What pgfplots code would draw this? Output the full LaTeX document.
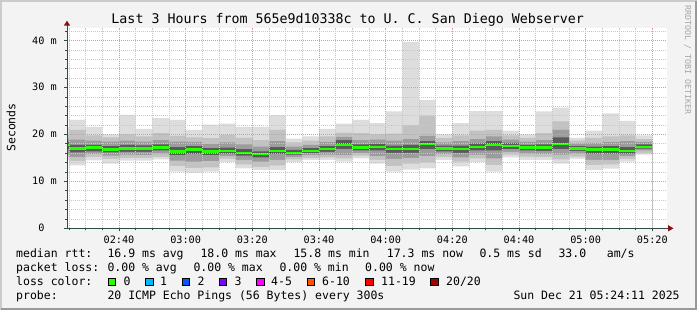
\documentclass[border=0pt]{standalone}
\usepackage{pgfplots}
\pgfplotsset{compat=1.18}
\usepackage{pgfplotstable}
\usepackage{fontspec}
\setmainfont{DejaVu Sans Mono}
\definecolor{bgc}{HTML}{F3F3F3}
\definecolor{shA}{HTML}{CBCBCB}
\definecolor{shB}{HTML}{999999}
\definecolor{axc}{HTML}{2C4D43}
\definecolor{arr}{HTML}{8B1010}
\definecolor{sm1}{HTML}{DDDDDD}
\definecolor{sm2}{HTML}{C2C2C2}
\definecolor{sm3}{HTML}{9C9C9C}
\definecolor{sm4}{HTML}{5A5A5A}
\definecolor{lc0}{HTML}{26FF00}
\definecolor{lc1}{HTML}{00B8FF}
\definecolor{lc2}{HTML}{0059FF}
\definecolor{lc3}{HTML}{7E00FF}
\definecolor{lc4}{HTML}{FF00FF}
\definecolor{lc6}{HTML}{FF5500}
\definecolor{lc11}{HTML}{FF0000}
\definecolor{lc20}{HTML}{A10000}
\pgfplotstableread{
x   mn   a    b    c    md   C    B    A    mx
20  14.6 15.2 15.8 16.9 17.8 18.4 19.0 20.0 21.5
25  13.4 14.3 15.2 16.2 17.0 17.8 18.9 21.0 23.1
30  14.5 15.2 15.8 16.4 17.2 17.8 18.7 19.8 21.6
35  13.8 14.8 15.5 16.2 16.8 17.5 18.5 19.4 20.0
40  14.4 15.0 15.7 16.3 17.0 17.8 18.7 20.0 24.2
45  14.4 15.0 15.6 16.3 17.0 17.7 18.5 19.6 21.2
50  14.7 15.2 15.9 16.6 17.2 17.9 18.8 20.3 23.5
55  12.1 13.3 14.4 15.6 16.4 17.3 18.5 19.7 23.1
60  11.8 12.9 14.2 15.8 16.8 17.5 18.4 19.4 21.0
65  12.1 13.0 14.3 15.6 16.4 17.1 18.0 19.2 22.1
70  14.1 14.8 15.4 15.9 16.5 17.2 18.3 19.9 22.3
75  12.8 13.6 14.6 15.5 16.1 16.9 17.9 19.3 21.6
80  12.4 13.1 14.2 15.1 15.8 16.4 17.4 18.8 21.6
85  12.4 13.4 14.6 15.8 16.5 17.3 18.6 21.0 24.1
90  14.1 14.7 15.2 15.7 16.1 16.7 17.4 18.3 19.1
95  14.6 15.0 15.6 16.0 16.5 17.1 17.8 18.7 19.6
100 14.6 15.1 15.7 16.3 16.9 17.5 18.4 19.6 21.2
105 14.2 14.9 15.6 16.9 17.8 18.8 19.5 20.4 22.3
110 14.9 15.5 16.0 16.6 17.2 17.9 18.8 20.3 23.1
115 13.8 14.6 15.4 16.6 17.4 18.0 18.9 20.0 22.4
120 12.1 13.3 14.8 16.1 16.9 17.6 18.7 20.2 24.9
125 12.5 13.8 15.0 16.1 16.9 17.8 19.0 22.0 39.7
130 12.8 14.0 15.4 16.9 17.9 18.6 19.7 24.0 27.3
135 14.6 15.2 15.8 16.4 17.0 17.6 18.3 19.2 20.0
140 13.2 14.2 15.1 16.1 16.9 17.6 18.6 19.8 22.4
145 14.1 14.9 15.7 16.6 17.4 18.1 19.0 20.8 25.0
150 12.1 13.5 14.9 16.6 17.8 18.6 19.6 21.0 25.0
155 15.1 15.7 16.3 16.9 17.6 18.2 18.9 19.8 20.8
160 14.6 15.3 15.9 16.6 17.2 17.8 18.5 19.3 20.0
165 14.6 15.2 15.8 16.5 17.2 17.9 18.8 20.3 24.9
170 13.8 14.7 15.7 16.9 18.0 19.4 21.0 22.8 25.7
175 14.8 15.3 15.9 16.5 17.0 17.5 18.1 18.7 19.3
180 12.4 13.5 14.6 15.9 16.8 17.4 18.2 19.3 20.8
185 12.7 13.6 14.6 15.9 16.8 17.5 18.4 19.6 24.5
190 14.2 14.8 15.4 15.9 16.5 17.3 18.6 19.8 22.9
195 15.7 16.1 16.6 17.0 17.3 17.9 18.4 19.0 19.8
200 15.7 16.1 16.6 17.0 17.3 17.9 18.4 19.0 19.8
}\smoke
\begin{document}
\begin{tikzpicture}[x=1pt,y=1pt]
\useasboundingbox (0,0) rectangle (697,310);
\fill[bgc] (0,0) rectangle (697,310);
\draw[shA,line width=2pt] (1,0) -- (1,309) -- (697,309);
\draw[shB,line width=2pt] (1,1) -- (696,1) -- (696,309);
\begin{axis}[
  at={(67pt,81.7pt)}, anchor=south west,
  scale only axis, width=600pt, height=200.3pt,
  xmin=24.4, xmax=204.4, ymin=0, ymax=42.7,
  axis lines*=left,
  axis line style={draw=none},
  axis background/.style={fill=white},
  axis on top,
  xtick={40,60,80,100,120,140,160,180,200},
  xticklabels={02:40,03:00,03:20,03:40,04:00,04:20,04:40,05:00,05:20},
  minor xtick={25,30,35,45,50,55,65,70,75,85,90,95,105,110,115,125,130,135,145,150,155,165,170,175,185,190,195},
  ytick={0,10,20,30,40},
  yticklabels={0\hphantom{\ m},10 m,20 m,30 m,40 m},
  minor ytick={2,4,6,8,12,14,16,18,22,24,26,28,32,34,36,38,42},
  grid=both,
  major grid style={dash pattern=on 1pt off 1pt, line width=0.8pt, color=red!45},
  minor grid style={dash pattern=on 1pt off 1pt, line width=0.8pt, color=black!22},
  tick align=outside,
  major tick length=3pt, minor tick length=2pt,
  tick style={axc, line width=0.8pt},
  xticklabel style={font=\fontsize{10.2}{12}\selectfont, anchor=base, inner sep=0pt, yshift=-12.2pt},
  yticklabel style={font=\fontsize{10.2}{12}\selectfont, anchor=base east, inner sep=0pt, xshift=-7pt, yshift=-3.4pt},
]
\addplot[const plot mark left, fill=sm1, draw=none] table[x=x,y=mx]{\smoke} \closedcycle;
\addplot[const plot mark left, fill=sm2, draw=none] table[x=x,y=A]{\smoke} \closedcycle;
\addplot[const plot mark left, fill=sm3, draw=none] table[x=x,y=B]{\smoke} \closedcycle;
\addplot[const plot mark left, fill=sm4, draw=none] table[x=x,y=C]{\smoke} \closedcycle;
\addplot[const plot mark left, fill=sm3, draw=none] table[x=x,y=c]{\smoke} \closedcycle;
\addplot[const plot mark left, fill=sm2, draw=none] table[x=x,y=b]{\smoke} \closedcycle;
\addplot[const plot mark left, fill=sm1, draw=none] table[x=x,y=a]{\smoke} \closedcycle;
\addplot[const plot mark left, fill=white, draw=none] table[x=x,y=mn]{\smoke} \closedcycle;
\addplot[jump mark left, draw=lc0, line width=2.3pt, mark=none] table[x=x,y=md]{\smoke};
\end{axis}
% axis lines with arrows
\draw[axc, line width=1pt] (67,81.7) -- (668,81.7);
\draw[axc, line width=1pt] (67,81.7) -- (67,284.5);
\fill[arr] (668,78.5) -- (673.5,81.7) -- (668,84.9) -- cycle;
\fill[arr] (63.8,284.3) -- (67,289.3) -- (70.2,284.3) -- cycle;
% title
\node[anchor=base, inner sep=0, font=\fontsize{13.3}{15}\selectfont] at (347.7,286) {Last 3 Hours from 565e9d10338c to U. C. San Diego Webserver};
\node[anchor=base, inner sep=0, rotate=90, font=\fontsize{11.5}{13}\selectfont] at (15.3,182.5) {Seconds};
\node[anchor=base, inner sep=0, rotate=-90, text=black!35, font=\fontsize{8.3}{10}\selectfont] at (685,250) {RRDTOOL / TOBI OETIKER};
% legend
\begin{scope}[every node/.style={anchor=base west, inner sep=0, font=\fontsize{11.5}{13}\selectfont}]
\node at (16,52) {median rtt:};
\node at (107.3,52) {16.9 ms avg};
\node at (200.3,52) {18.0 ms max};
\node at (293.3,52) {15.8 ms min};
\node at (386.7,52) {17.3 ms now};
\node at (479.3,52) {0.5 ms sd};
\node at (558.3,52) {33.0};
\node at (606.7,52) {am/s};
\node at (16,38) {packet loss:};
\node at (107.3,38) {0.00 \% avg};
\node at (193.3,38) {0.00 \% max};
\node at (279.3,38) {0.00 \% min};
\node at (365,38) {0.00 \% now};
\node at (16,24) {loss color:};
\node at (123.3,24) {0};
\node at (160,24) {1};
\node at (197.3,24) {2};
\node at (234.3,24) {3};
\node at (271,24) {4-5};
\node at (322,24) {6-10};
\node at (381,24) {11-19};
\node at (446,24) {20/20};
\node at (16,10) {probe:};
\node at (107.3,10) {20 ICMP Echo Pings (56 Bytes) every 300s};
\node at (513.3,10) {Sun Dec 21 05:24:11 2025};
\end{scope}
\foreach \xx/\cc in {108.3/lc0,145.7/lc1,182.3/lc2,219.3/lc3,256.7/lc4,307.3/lc6,365.7/lc11,430.7/lc20}{
  \filldraw[fill=\cc, draw=black, line width=0.9pt] (\xx,24.3) rectangle ++(7.4,7.4);
}
\end{tikzpicture}
\end{document}
